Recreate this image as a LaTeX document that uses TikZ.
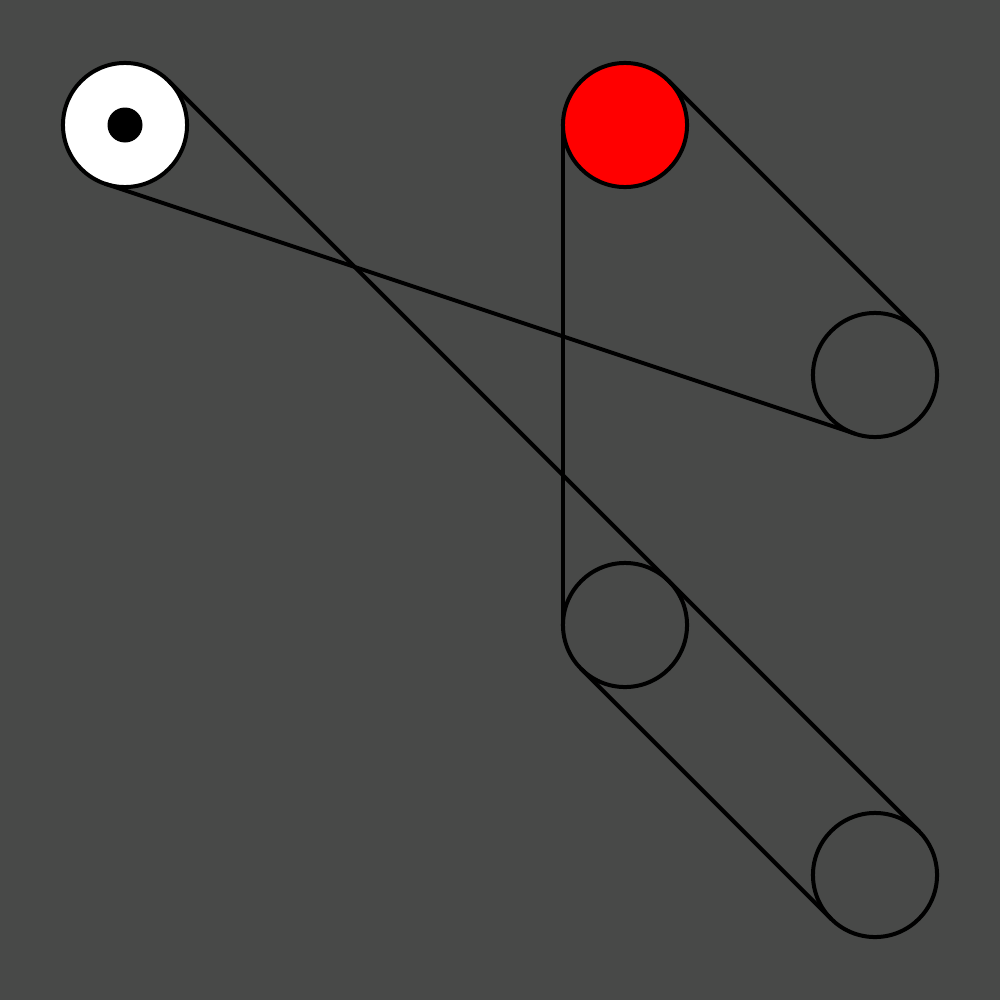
\documentclass[tikz,border=0pt]{standalone}
\usetikzlibrary{calc}
\definecolor{bg}{RGB}{72,73,72}
\tikzset{
  pulley/.style={circle, draw=black, line width=0.04cm, minimum size=1.24cm, inner sep=0pt, outer sep=0pt},
  belt/.style={draw=black, line width=0.04cm}
}
\begin{document}
\begin{tikzpicture}[x=0.01cm,y=-0.01cm]
\fill[bg] (0,0) rectangle (1000,1000);
\useasboundingbox (0,0) rectangle (1000,1000);
\node[pulley, fill=white] (w) at (125,125) {};
\fill[black] (w.center) circle (17.5);
\node[pulley, fill=red] (r) at (625,125) {};
\node[pulley] (a) at (875,375) {};
\node[pulley] (b) at (625,625) {};
\node[pulley] (c) at (875,875) {};
\draw[belt] (w.251.57) -- (a.251.57);
\draw[belt] (w.45) -- (c.45);
\draw[belt] (r.45) -- (a.45);
\draw[belt] (r.180) -- (b.180);
\draw[belt] (b.225) -- (c.225);
\end{tikzpicture}
\end{document}
